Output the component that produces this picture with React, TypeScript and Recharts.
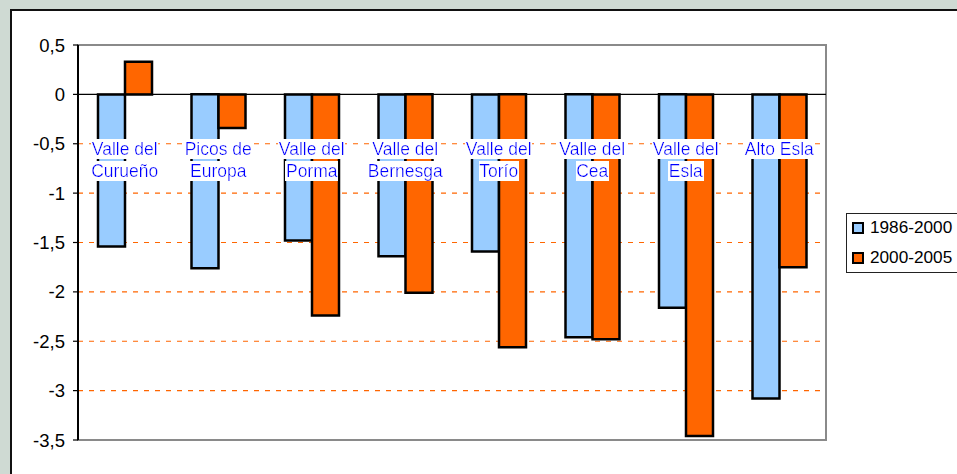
import {
  BarChart,
  Bar,
  XAxis,
  YAxis,
  CartesianGrid,
  ReferenceLine,
  ReferenceArea,
} from 'recharts';

const categories = [
  ['Valle del', 'Curueño'],
  ['Picos de', 'Europa'],
  ['Valle del', 'Porma'],
  ['Valle del', 'Bernesga'],
  ['Valle del', 'Torío'],
  ['Valle del', 'Cea'],
  ['Valle del', 'Esla'],
  ['Alto Esla', ''],
];
const serie1986 = [-1.54, -1.76, -1.48, -1.64, -1.59, -2.46, -2.16, -3.08];
const serie2000 = [0.33, -0.34, -2.24, -2.01, -2.56, -2.48, -3.46, -1.75];
const yTicks = [0.5, 0, -0.5, -1, -1.5, -2, -2.5, -3, -3.5];
const gridValues = [-0.5, -1, -1.5, -2, -2.5, -3];
const seriesNames = ['1986-2000', '2000-2005'];

const FONT = '"Liberation Sans", Arial, sans-serif';
const BLUE = '#99ccff';
const ORANGE = '#ff6600';

const data = categories.map((c, i) => ({
  name: c.join('|'),
  a: serie1986[i],
  b: serie2000[i],
}));

// etichette di categoria disegnate in alto, sotto la linea dello zero
function CategoryTick(props: any) {
  const { x, payload } = props;
  const lines = String(payload.value).split('|').filter((s) => s);
  return (
    <g>
      {lines.map((l, i) => (
        <text
          key={i}
          x={x}
          y={155 + i * 22}
          textAnchor="middle"
          filter="url(#whitebg)"
          fill="#0000ff"
          style={{ fontSize: 17.5, fontFamily: FONT }}
        >
          {l}
        </text>
      ))}
    </g>
  );
}

function LegendBox() {
  const colors = [BLUE, ORANGE];
  return (
    <div
      style={{
        position: 'absolute',
        left: 846,
        top: 213,
        border: '1.5px solid #222',
        background: '#fff',
        width: 130,
        height: 60,
        boxSizing: 'border-box',
        padding: '0 0 0 5px',
        fontFamily: FONT,
        fontSize: 17.2,
      }}
    >
      <div style={{ position: 'relative', top: -1.5 }}>
        {seriesNames.map((n, i) => (
          <div key={n} style={{ display: 'flex', alignItems: 'center', height: 30 }}>
            <span
              style={{
                display: 'inline-block',
                width: 8,
                height: 8,
                border: '2px solid #000',
                background: colors[i],
                marginRight: 6,
              }}
            />
            <span style={{ whiteSpace: 'nowrap' }}>{n}</span>
          </div>
        ))}
      </div>
    </div>
  );
}

export default function App() {
  return (
    <div
      style={{
        position: 'fixed',
        left: 0,
        top: 0,
        width: 957,
        height: 474,
        overflow: 'hidden',
        background: '#cfdad3',
      }}
    >
      <div
        style={{
          position: 'absolute',
          left: 10,
          top: 9,
          width: 1000,
          height: 520,
          background: '#fff',
          borderLeft: '2px solid #111',
          borderTop: '2px solid #111',
        }}
      />
      <div style={{ position: 'absolute', left: 0, top: 0 }}>
        <BarChart
          width={957}
          height={474}
          data={data}
          margin={{ top: 45, right: 131, bottom: 33, left: 18 }}
          barGap={0}
          barSize={27}
        >
          <defs>
            <filter id="whitebg" x="0" y="0" width="1" height="1">
              <feFlood floodColor="#ffffff" />
              <feComposite in="SourceGraphic" operator="over" />
            </filter>
          </defs>
          <CartesianGrid
            vertical={false}
            horizontalValues={gridValues}
            stroke={ORANGE}
            strokeDasharray="5 6"
            strokeWidth={1.2}
          />
          <ReferenceArea
            y1={-3.5}
            y2={0.5}
            fill="none"
            stroke="#8a8a8a"
            strokeWidth={2}
            ifOverflow="visible"
          />
          <XAxis
            dataKey="name"
            height={1}
            axisLine={false}
            tickLine={false}
            tick={<CategoryTick />}
            interval={0}
          />
          <YAxis
            width={60}
            domain={[-3.5, 0.5]}
            ticks={yTicks}
            interval={0}
            allowDataOverflow
            tickFormatter={(v: number) => String(v).replace('.', ',')}
            axisLine={{ stroke: '#000', strokeWidth: 2 }}
            tickLine={{ stroke: '#000', strokeWidth: 1.2 }}
            tickSize={5}
            tickMargin={8}
            tick={{ fill: '#000', fontSize: 18.5, fontFamily: FONT }}
          />
          <Bar
            dataKey="a"
            name={seriesNames[0]}
            fill={BLUE}
            stroke="#000"
            strokeWidth={2.5}
            isAnimationActive={false}
          />
          <Bar
            dataKey="b"
            name={seriesNames[1]}
            fill={ORANGE}
            stroke="#000"
            strokeWidth={2.5}
            isAnimationActive={false}
          />
          <ReferenceLine y={0} stroke="#000" strokeWidth={1.4} />
        </BarChart>
      </div>
      <LegendBox />
    </div>
  );
}
